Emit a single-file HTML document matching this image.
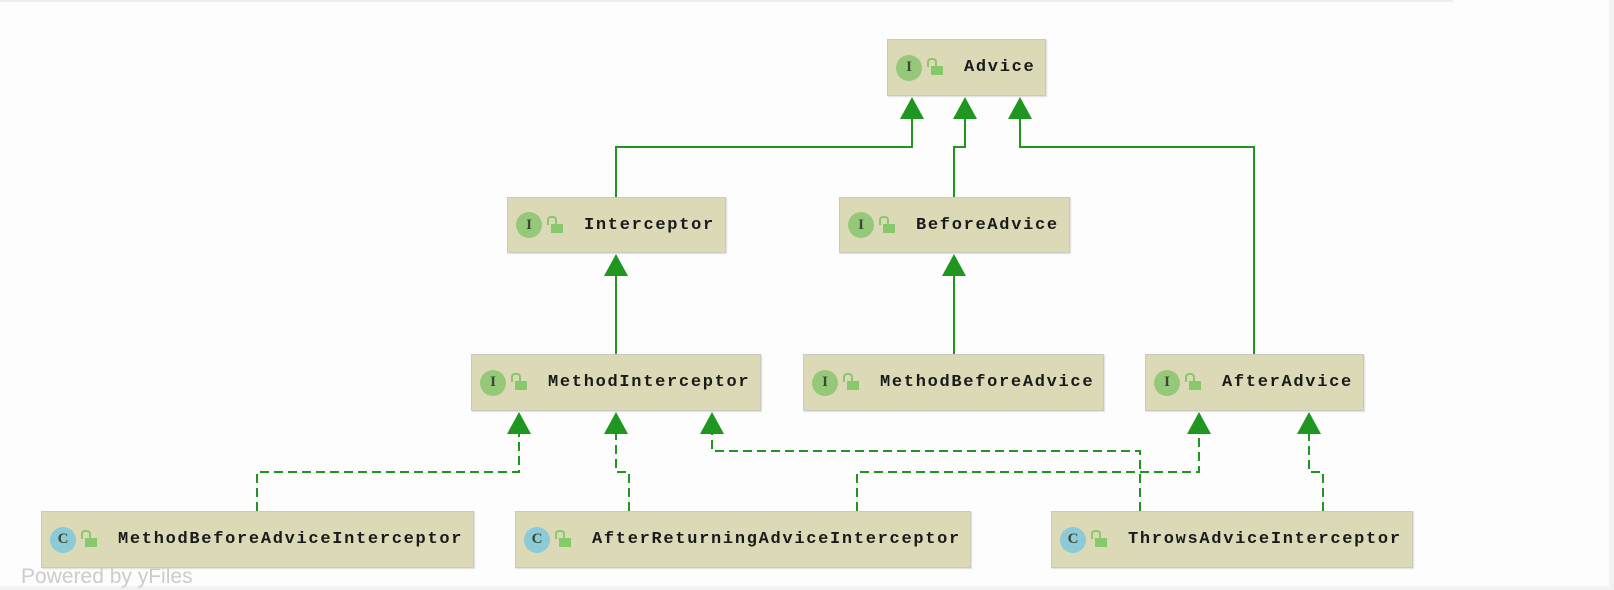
<!DOCTYPE html><html><head><style>
body{margin:0;width:1614px;height:590px;background:#fdfdfd;position:relative;overflow:hidden;font-family:"Liberation Mono",monospace}
.b{position:absolute;background:#dcdab6;border:1px solid #c9c9c0;box-shadow:1px 1px 1px #ddd;box-sizing:border-box;display:flex;align-items:center;padding-left:8px}
.ic{width:26px;height:26px;border-radius:50%;background:#96c87a;color:#3a4a30;font:bold 15px "Liberation Serif",serif;display:flex;align-items:center;justify-content:center;margin-right:9px}
.c{background:#8ccad8}
.lk{width:12px;height:9px;background:#86c86a;position:relative;margin:6px 21px 0 0}
.lk:before{content:"";position:absolute;left:-4px;top:-8px;width:6px;height:7px;border:2px solid #86c86a;border-bottom:none;border-radius:4px 4px 0 0}
.t{font-weight:bold;font-size:17px;letter-spacing:1.7px;color:#1a1a1a}
</style></head><body>
<div style="position:absolute;left:0;top:0;width:1453px;height:2px;background:#eee"></div>
<div style="position:absolute;right:0;top:0;width:5px;height:590px;background:#f1f2f4"></div>
<div style="position:absolute;left:0;bottom:0;width:1614px;height:4px;background:#f1f2f4"></div>
<svg width="1614" height="590" style="position:absolute;left:0;top:0">
<g stroke="#1f961f" stroke-width="2" fill="none">
<path d="M616 197V147H912V110M954 197V147H965V110M1254 354V147H1020V110M616 354V275M954 354V275"/>
<g stroke-dasharray="9,5"><path d="M257 511V472H519V432M629 511V472H616V432M1140 511V451H712V432M857 511V472H1199V432M1323 511V472H1309V432"/></g>
</g>
<g fill="#1f961f">
<path d="M912 97l-12 22h24zM965 97l-12 22h24zM1020 97l-12 22h24zM616 254l-12 22h24zM954 254l-12 22h24zM519 412l-12 22h24zM616 412l-12 22h24zM712 412l-12 22h24zM1199 412l-12 22h24zM1309 412l-12 22h24z"/>
</g></svg>
<div class="b" style="left:887px;top:39px;width:159px;height:57px"><div class="ic">I</div><div class="lk"></div><span class="t">Advice</span></div>
<div class="b" style="left:507px;top:197px;width:219px;height:56px"><div class="ic">I</div><div class="lk"></div><span class="t">Interceptor</span></div>
<div class="b" style="left:839px;top:197px;width:231px;height:56px"><div class="ic">I</div><div class="lk"></div><span class="t">BeforeAdvice</span></div>
<div class="b" style="left:471px;top:354px;width:290px;height:57px"><div class="ic">I</div><div class="lk"></div><span class="t">MethodInterceptor</span></div>
<div class="b" style="left:803px;top:354px;width:301px;height:57px"><div class="ic">I</div><div class="lk"></div><span class="t">MethodBeforeAdvice</span></div>
<div class="b" style="left:1145px;top:354px;width:219px;height:57px"><div class="ic">I</div><div class="lk"></div><span class="t">AfterAdvice</span></div>
<div class="b" style="left:41px;top:511px;width:433px;height:57px"><div class="ic c">C</div><div class="lk"></div><span class="t">MethodBeforeAdviceInterceptor</span></div>
<div class="b" style="left:515px;top:511px;width:456px;height:57px"><div class="ic c">C</div><div class="lk"></div><span class="t">AfterReturningAdviceInterceptor</span></div>
<div class="b" style="left:1051px;top:511px;width:362px;height:57px"><div class="ic c">C</div><div class="lk"></div><span class="t">ThrowsAdviceInterceptor</span></div>
<div style="position:absolute;left:21px;top:565px;font:21px 'Liberation Sans',sans-serif;color:#ccc">Powered by yFiles</div>
</body></html>
